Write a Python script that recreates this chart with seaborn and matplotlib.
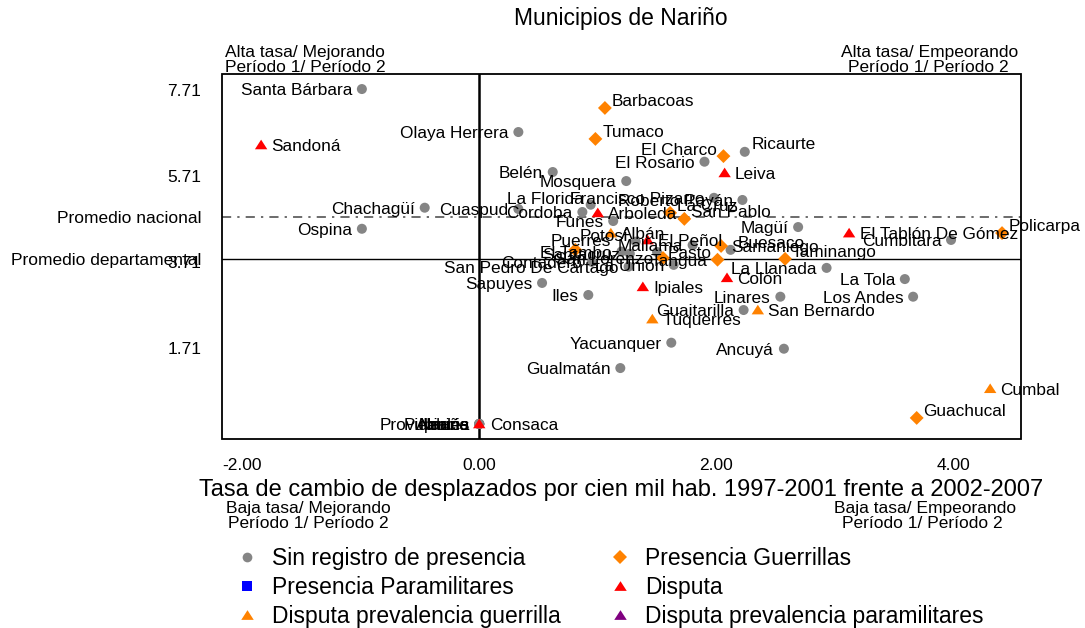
import matplotlib
matplotlib.use("Agg")
import matplotlib.pyplot as plt
import numpy as np
import pandas as pd
import seaborn as sns
from matplotlib.lines import Line2D
from matplotlib.patches import Rectangle

# ---------------- data ----------------
SR = "Sin registro de presencia"
PG = "Presencia Guerrillas"
PP = "Presencia Paramilitares"
DI = "Disputa"
DG = "Disputa prevalencia guerrilla"
DP = "Disputa prevalencia paramilitares"

municipios = [
    "Santa Bárbara", "Sandoná", "Olaya Herrera", "Barbacoas", "Tumaco", "Ricaurte",
    "El Charco", "El Rosario", "Leiva", "Mosquera", "Belén", "Chachagüí", "Cuaspud",
    "Ospina", "La Florida", "Cordoba", "Francisco Pizarro", "Roberto Payán", "La Cruz",
    "San Pablo", "Arboleda", "Funes", "Magüí", "Buesaco", "Samaniego", "Taminango",
    "El Tablón De Gómez", "Cumbitara", "Policarpa", "La Llanada", "Colón", "La Tola",
    "Los Andes", "Linares", "San Bernardo", "Guaitarilla", "Túquerres", "Ipiales",
    "Iles", "Sapuyes", "Yacuanquer", "Ancuyá", "Gualmatán", "Cumbal", "Guachucal",
    "Providencia", "Pupiales", "Aldana", "Imués", "Nariño", "Consaca",
    "Albán", "Potosí", "Mallama", "El Peñol", "Pasto", "San Lorenzo", "Tangua",
    "Santacruz", "El Tambo", "Puerres", "Contadero", "San Pedro De Cartago", "La Unión",
]
cambio_tasa = [
    -0.99, -1.84, 0.33, 1.06, 0.98, 2.24,
    2.06, 1.90, 2.07, 1.24, 0.62, -0.46, 0.33,
    -0.99, 0.94, 0.87, 1.98, 2.22, 1.61,
    1.73, 1.00, 1.13, 2.69, 2.12, 2.04, 2.58,
    3.12, 3.98, 4.41, 2.93, 2.09, 3.59,
    3.66, 2.54, 2.35, 2.23, 1.46, 1.38,
    0.92, 0.53, 1.62, 2.57, 1.19, 4.31, 3.69,
    0.00, 0.00, 0.00, 0.00, 0.00, 0.00,
    1.11, 1.32, 1.80, 1.42, 1.50, 1.55, 2.01,
    1.27, 1.20, 0.81, 0.95, 1.26, 1.64,
]
tasa_periodo = [
    7.73, 6.43, 6.73, 7.29, 6.57, 6.27,
    6.17, 6.04, 5.78, 5.59, 5.80, 4.97, 4.94,
    4.48, 5.04, 4.87, 5.20, 5.15, 4.85,
    4.71, 4.85, 4.66, 4.52, 3.99, 4.08, 3.78,
    4.38, 4.22, 4.38, 3.57, 3.34, 3.31,
    2.90, 2.90, 2.59, 2.59, 2.38, 3.13,
    2.94, 3.22, 1.83, 1.69, 1.24, 0.76, 0.08,
    -0.06, -0.06, -0.06, -0.06, -0.06, -0.06,
    4.38, 4.18, 4.10, 4.22, 3.94, 3.80, 3.76,
    3.90, 3.95, 3.99, 3.71, 3.60, 3.64,
]
grupo = [
    SR, DI, SR, PG, PG, SR,
    PG, SR, DI, SR, SR, SR, SR,
    SR, SR, SR, SR, SR, PG,
    PG, DI, SR, SR, SR, PG, PG,
    DI, SR, PG, SR, DI, SR,
    SR, SR, DG, SR, DG, DI,
    SR, SR, SR, SR, SR, DG, PG,
    SR, SR, SR, SR, SR, DI,
    DG, SR, SR, DI, SR, PG, PG,
    SR, SR, PG, SR, SR, SR,
]

promedio_nacional = 4.75
promedio_departamental = 3.78
y_ticks = [1.71, 3.71, 5.71, 7.71]
x_ticks = [-2.0, 0.0, 2.0, 4.0]
categorias = [SR, PG, PP, DI, DG, DP]

# ---------------- layout / style ----------------
label_pos = {
    "Sandoná": "r", "Barbacoas": "ur", "Tumaco": "ur", "Ricaurte": "ur",
    "El Charco": "ul", "Leiva": "r", "La Cruz": "ur", "San Pablo": "ur",
    "Arboleda": "r", "Buesaco": "ur", "Samaniego": "r", "Taminango": "ur",
    "El Tablón De Gómez": "r", "Policarpa": "ur", "Colón": "r",
    "San Bernardo": "r", "Túquerres": "r", "Ipiales": "r", "Cumbal": "r",
    "Guachucal": "ur", "Consaca": "r", "Albán": "r", "Potosí": "ul",
    "El Peñol": "r", "Pasto": "r", "Puerres": "u", "La Florida": "ul",
}
offsets = {
    "r": (7.5, 0, "left"), "l": (-7, 0, "right"), "ur": (5, 6, "left"),
    "ul": (-5, 5, "right"), "u": (4, 7, "center"),
}

palette = {SR: "#858585", PG: "#FF8200", PP: "#0000FF", DI: "#FF0000",
           DG: "#FF8200", DP: "#800080"}
tri = [(-1.0, -0.7), (1.0, -0.7), (0.0, 0.85)]
markers = {SR: "o", PG: "D", PP: "s", DI: tri, DG: tri, DP: tri}
sizes = {SR: 52, PG: 50, PP: 50, DI: 80, DG: 80, DP: 80}

sns.set_theme(style="white")
plt.rcParams["font.family"] = ["Liberation Sans", "DejaVu Sans"]
plt.rcParams["text.color"] = "black"

W, H = 1085, 628
fig = plt.figure(figsize=(W / 100, H / 100), dpi=100)
L, R, T, B = 222, 1021, 74, 439
ax = fig.add_axes([L / W, 1 - B / H, (R - L) / W, (B - T) / H])

df = pd.DataFrame({"municipio": municipios, "x": cambio_tasa,
                   "y": tasa_periodo, "grupo": grupo})

ax.axvline(0, color="black", lw=1.8, zorder=1)
ax.axhline(promedio_departamental, color="black", lw=1.0, zorder=1)
ax.axhline(promedio_nacional, color="#444444", lw=1.1,
           linestyle=(0, (6, 4, 1.5, 4)), zorder=1)

present = [c for c in categorias if c in set(grupo)]
sns.scatterplot(data=df, x="x", y="y", hue="grupo", style="grupo", size="grupo",
                hue_order=present, style_order=present, size_order=present,
                palette={c: palette[c] for c in present},
                markers={c: markers[c] for c in present},
                sizes={c: sizes[c] for c in present},
                linewidth=0, legend=False, ax=ax, zorder=3)

for n, xv, yv in zip(municipios, cambio_tasa, tasa_periodo):
    dx, dy, ha = offsets[label_pos.get(n, "l")]
    ax.annotate(n, (xv, yv), xytext=(dx, dy), textcoords="offset points",
                ha=ha, va="center_baseline", fontsize=12.4, color="black", zorder=4)

ax.set_xlim(-2.17, 4.57)
ax.set_ylim(-0.41, 8.08)
ax.set_xticks(x_ticks)
ax.set_xticklabels([f"{v:.2f}" for v in x_ticks])
ax.set_yticks(y_ticks + [promedio_nacional, promedio_departamental])
ax.set_yticklabels([f"{v:.2f}" for v in y_ticks] +
                   ["Promedio nacional", "Promedio departamental"])
ax.set_xlabel("")
ax.set_ylabel("")
for s in ax.spines.values():
    s.set_position(("outward", 3))
    s.set_visible(False)
ax.add_patch(Rectangle((0, 0), 1, 1, transform=ax.transAxes, fill=False,
                       lw=1.3, ec="black", clip_on=False, zorder=5))
ax.tick_params(axis="both", direction="out", length=6, width=1, color="black",
               labelsize=12.5, labelcolor="black")
ax.tick_params(axis="y", pad=6)
ax.tick_params(axis="x", pad=5)
ax.set_facecolor("white")

def ft(x, y, s, size, ha="center"):
    fig.text(x / W, 1 - y / H, s, fontsize=size, ha=ha, va="center", color="black")

ft(621, 18, "Municipios de Nariño", 16.5)
ft(621, 490, "Tasa de cambio de desplazados por cien mil hab. 1997-2001 frente a 2002-2007", 17)
ft(305, 52, "Alta tasa/ Mejorando", 12.5)
ft(305, 67, "Período 1/ Período 2", 12.5)
ft(930, 52, "Alta tasa/ Empeorando", 12.5)
ft(928, 67, "Período 1/ Período 2", 12.5)
ft(308, 509, "Baja tasa/ Mejorando", 12.5)
ft(308, 523, "Período 1/ Período 2", 12.5)
ft(925, 509, "Baja tasa/ Empeorando", 12.5)
ft(922, 523, "Período 1/ Período 2", 12.5)

def h(c, m, ms):
    return Line2D([], [], marker=m, color="none", markerfacecolor=palette[c],
                  markeredgewidth=0, markersize=ms, linestyle="None")

col1 = [SR, PP, DG]
col2 = [PG, DI, DP]
leg_ms = {SR: 7, PG: 7, PP: 7.5, DI: 9, DG: 9, DP: 9}
for cols, x0 in ((col1, 238), (col2, 611)):
    leg = fig.legend([h(c, markers[c], leg_ms[c]) for c in cols], cols,
                     loc="upper left", bbox_to_anchor=(x0 / W, 1 - 547 / H),
                     frameon=False, fontsize=16.5, handlelength=0.8,
                     handletextpad=0.69, borderpad=0, borderaxespad=0,
                     labelspacing=0.27, labelcolor="black")

fig.savefig("out.png", dpi=100, facecolor="white")
